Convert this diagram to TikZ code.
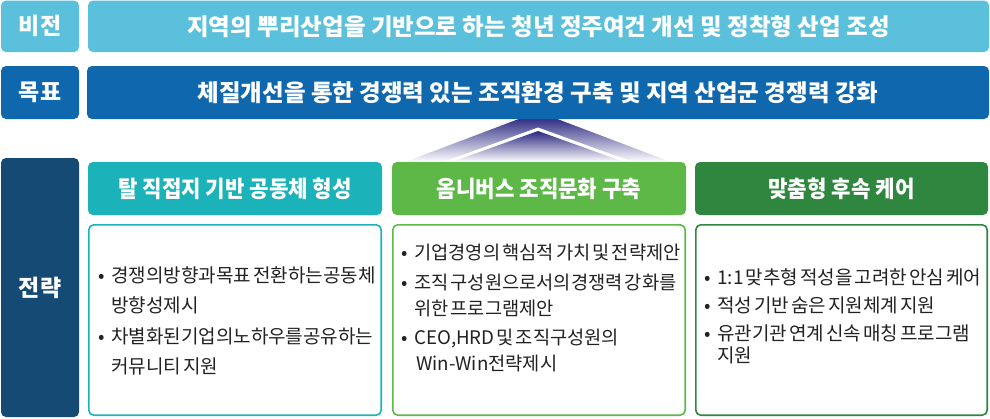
\documentclass[tikz,border=0pt]{standalone}
\usepackage{fontspec}
\setmainfont{Noto Sans CJK KR}
\newfontfamily\headfont[FakeStretch=0.92]{Noto Sans CJK KR}
\newfontfamily\bodyfont[WordSpace=0.5]{Noto Sans CJK KR}
\definecolor{cVision}{HTML}{5BC0DB}
\definecolor{cGoal}{HTML}{0F67AE}
\definecolor{cStrat}{HTML}{154A74}
\definecolor{cTeal}{HTML}{1BB2B9}
\definecolor{cGreen}{HTML}{5DB848}
\definecolor{cDark}{HTML}{2F863E}
\definecolor{cNavy}{HTML}{2A2880}
\definecolor{cText}{HTML}{222222}
\newcommand\kbul{\makebox[13pt][l]{•}}
\newcommand\kind{\hspace*{13pt}}
\begin{document}
\begin{tikzpicture}[x=1pt,y=-1pt,
  box/.style={rectangle, rounded corners=5pt, inner sep=0pt, text=white},
  labelbox/.style={box, minimum width=78pt, font=\fontsize{23}{26}\selectfont\bfseries},
  barbox/.style={box, minimum width=901pt, font=\fontsize{23.5}{26}\selectfont\bfseries},
  headbox/.style={box, minimum width=294pt, minimum height=53pt, font=\headfont\fontsize{23}{26}\selectfont\bfseries},
  contentbox/.style={rectangle, rounded corners=5pt, line width=1.6pt, fill=white, minimum width=292.4pt, minimum height=190.4pt},
  bodytext/.style={anchor=west, inner sep=0pt, align=left, text=cText}
]
\useasboundingbox (0,0) rectangle (990,418);
% chevron
\shade[top color=cNavy, bottom color=white] (524,117) -- (552,117) -- (671,162) -- (405,162) -- cycle;
\fill[white] (538,127.5) -- (634,162.5) -- (442,162.5) -- cycle;
\shade[top color=cNavy, bottom color=white] (538,131) -- (624,162) -- (452,162) -- cycle;
% rows
\node[labelbox, fill=cVision, minimum height=51.5pt] (vlab) at (40,26.3) {비전};
\node[barbox, fill=cVision, minimum height=51.5pt] (vbar) at (538.5,26.3) {지역의 뿌리산업을 기반으로 하는 청년 정주여건 개선 및 정착형 산업 조성};
\node[labelbox, fill=cGoal, minimum height=53pt] (glab) at (40,92.5) {목표};
\node[barbox, fill=cGoal, minimum height=53pt, minimum width=902pt] (gbar) at (538,92.5) {체질개선을 통한 경쟁력 있는 조직환경 구축 및 지역 산업군 경쟁력 강화};
\node[labelbox, fill=cStrat, minimum height=259pt] (slab) at (40,287.5) {전략};
% column headers
\node[headbox, fill=cTeal] (h1) at (235,188.5) {탈 직접지 기반 공동체 형성};
\node[headbox, fill=cGreen] (h2) at (539,188.5) {옴니버스 조직문화 구축};
\node[headbox, fill=cDark, minimum width=293pt] (h3) at (841.5,188.5) {맞춤형 후속 케어};
% content boxes
\node[contentbox, draw=cTeal] (c1) at (235,320) {};
\node[contentbox, draw=cGreen] (c2) at (539,320) {};
\node[contentbox, draw=cDark, minimum width=291.4pt] (c3) at (841.5,320) {};
% content text
\node[bodytext, font=\bodyfont\fontsize{19}{30}\selectfont] (t1) at (98,321) {\kbul 경쟁의방향과목표 전환하는공동체\\ \kind 방향성제시\\[1.7pt] \kbul 차별화된기업의노하우를공유하는\\ \kind 커뮤니티 지원};
\node[bodytext, font=\bodyfont\fontsize{18.7}{26}\selectfont] (t2) at (401,308) {\kbul 기업경영의 핵심적 가치 및 전략제안\\[4pt] \kbul 조직 구성원으로서의경쟁력 강화를\\ \kind 위한 프로그램제안\\[3pt] \kbul CEO,HRD 및 조직구성원의\\ \kind\hspace*{2pt}Win-Win전략제시};
\node[bodytext, font=\bodyfont\fontsize{19}{22}\selectfont] (t3) at (704,316) {\kbul 1:1 맞추형 적성을 고려한 안심 케어\\[6pt] \kbul 적성 기반 숨은 지원체계 지원\\[6pt] \kbul 유관기관 연계 신속 매칭 프로그램\\ \kind 지원};
\end{tikzpicture}
\end{document}
